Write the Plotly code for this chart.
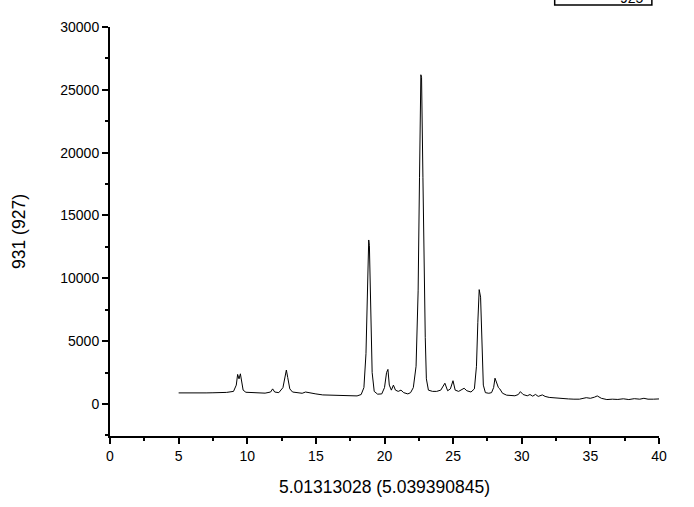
import plotly.graph_objects as go

# diffractogram readings (2-theta, counts)
two_theta = [
    5.0, 5.5, 6.0, 6.5, 7.0, 7.5, 8.0, 8.5, 9.0, 9.2, 9.3, 9.4, 9.5, 9.6, 9.7, 9.9,
    10.3, 10.8, 11.3, 11.7, 11.85, 12.0, 12.3, 12.6, 12.75, 12.85, 12.95, 13.1, 13.3,
    13.6, 14.0, 14.25, 14.5, 15.0, 15.5, 16.0, 16.5, 17.0, 17.5, 18.0, 18.3, 18.5,
    18.65, 18.75, 18.85, 18.9, 19.0, 19.1, 19.25, 19.5, 19.8, 20.0, 20.15, 20.25,
    20.35, 20.5, 20.65, 20.8, 21.0, 21.2, 21.4, 21.7, 21.9, 22.1, 22.3, 22.45, 22.55,
    22.65, 22.7, 22.8, 22.9, 22.97, 23.05, 23.2, 23.5, 23.8, 24.1, 24.4, 24.6, 24.8,
    24.99, 25.15, 25.4, 25.6, 25.8, 26.0, 26.3, 26.55, 26.7, 26.8, 26.9, 27.0, 27.1,
    27.2, 27.35, 27.6, 27.8, 27.95, 28.05, 28.15, 28.3, 28.4, 28.6, 28.9, 29.2, 29.5,
    29.75, 29.9, 30.1, 30.4, 30.6, 30.8, 31.0, 31.2, 31.5, 31.7, 32.0, 32.5, 33.0,
    33.4, 33.8, 34.2, 34.7, 35.0, 35.3, 35.5, 35.8, 36.2, 36.6, 37.0, 37.4, 37.8,
    38.2, 38.6, 38.9, 39.2, 39.6, 40.0,
]
counts = [
    880, 870, 880, 890, 880, 890, 900, 920, 1000, 1500, 2350, 2000, 2400, 1700, 1100, 930,
    900, 880, 860, 950, 1200, 950, 900, 1300, 2200, 2700, 2100, 1200, 950,
    900, 850, 950, 880, 800, 720, 700, 680, 650, 620, 640, 750, 1300,
    4000, 8500, 13050, 12600, 7000, 2500, 1000, 780, 800, 1300, 2500, 2750,
    1500, 1100, 1500, 1100, 1000, 1100, 900, 800, 900, 1300, 3000, 9000, 18000,
    26200, 26000, 18000, 9000, 5300, 2000, 1100, 1000, 1000, 1100, 1650, 1050, 1200,
    1850, 1100, 1000, 1100, 1250, 1050, 950, 1200, 3000, 6500, 9100, 8500, 5000,
    1500, 900, 850, 900, 1300, 2050, 1700, 1300, 1200, 850, 700, 680, 650,
    750, 980, 750, 650, 750, 620, 760, 600, 720, 600, 520, 460, 420,
    400, 380, 380, 500, 450, 540, 640, 450, 350, 380, 360, 410, 350,
    420, 380, 450, 380, 380, 400,
]

x_title = "5.01313028 (5.039390845)"
y_title = "931 (927)"
series_name = "925"

font_name = "Liberation Sans, Arial"

fig = go.Figure()
fig.add_trace(go.Scatter(x=two_theta, y=counts, mode="lines", name=series_name,
                         line=dict(color="black", width=1)))

axis_common = dict(
    showgrid=False, zeroline=False, showline=True, linecolor="black", linewidth=2,
    ticks="outside", ticklen=6, tickwidth=1.5, tickcolor="black",
    tickfont=dict(family=font_name, size=14, color="black"),
    minor=dict(ticks="outside", ticklen=3, tickwidth=1.5, tickcolor="black"),
    automargin=False,
)

fig.update_xaxes(range=[0, 40], dtick=5, minor_dtick=2.5, tickformat="d",
                 title=dict(text=x_title, font=dict(family=font_name, size=17.5, color="black"), standoff=18),
                 **axis_common)
fig.update_yaxes(range=[-2550, 30000], dtick=5000, minor_dtick=2500, tickformat="d",
                 title=dict(text=y_title, font=dict(family=font_name, size=17.5, color="black"), standoff=30),
                 **axis_common)

# legend box poking in from the top edge (cut off in the original)
fig.add_shape(type="rect", xref="paper", yref="paper", x0=0.81, x1=0.987, y0=1.054, y1=1.2,
              line=dict(color="black", width=1.5), fillcolor="white")
fig.add_annotation(text=series_name, xref="paper", yref="paper", x=0.95, y=1.072,
                   xanchor="center", yanchor="middle", showarrow=False,
                   font=dict(family=font_name, size=14, color="black"))

fig.update_layout(
    width=694, height=507, showlegend=False,
    plot_bgcolor="white", paper_bgcolor="white",
    margin=dict(l=110, r=35, t=27, b=71),
)

# drop the page's default body margin so the chart sits flush at the corner
fig.write_html("out.html", config={"displayModeBar": False},
               post_script="document.body.style.margin='0';")
